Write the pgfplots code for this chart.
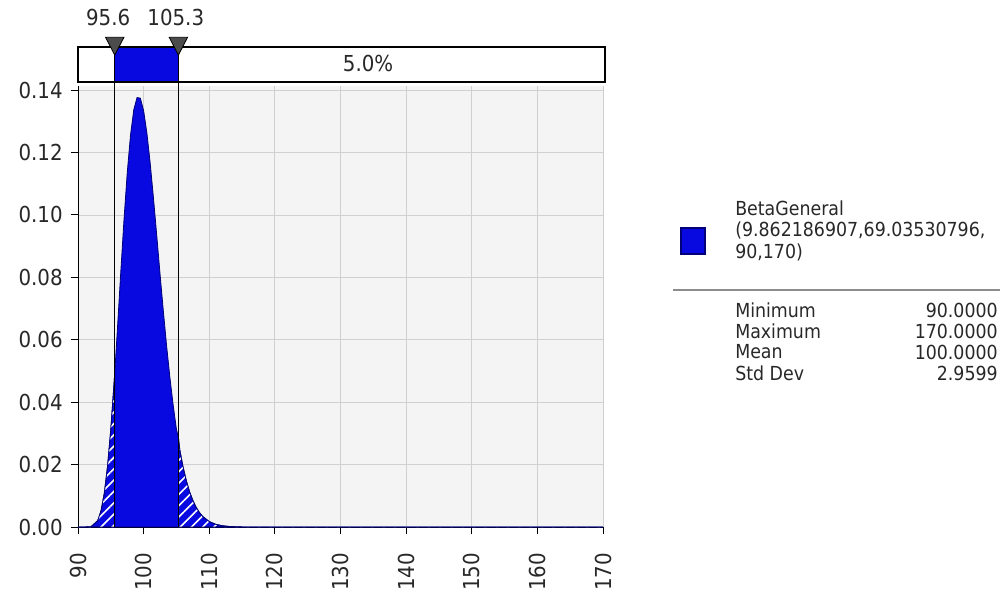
\documentclass[border=0pt]{standalone}
\usepackage{pgfplots}
\pgfplotsset{compat=1.18}
\usepackage{pgfplotstable}
\usetikzlibrary{patterns.meta}
\usepackage{fontspec}
\setmainfont{DejaVu Sans Condensed}

\definecolor{fillblue}{RGB}{8,8,225}
\definecolor{edgeblue}{RGB}{0,0,120}
\definecolor{bggray}{RGB}{244,244,244}
\definecolor{gridgray}{RGB}{208,208,208}
\definecolor{txt}{RGB}{40,40,40}

% density of BetaGeneral(9.862,69.035,90,170)
\pgfplotstableread{
x y
90 0
91 0.00001
92 0.00013
93 0.00203
93.5 0.00511
94 0.01068
94.5 0.01935
95 0.0313
95.5 0.0462
95.6 0.0494
}\lefttail
\pgfplotstableread{
x y
95.6 0.0494
96 0.0632
96.5 0.0810
97 0.0982
97.5 0.1134
98 0.1255
98.5 0.1337
99 0.1376
99.5 0.1374
100 0.1334
100.5 0.1262
101 0.1166
101.5 0.1054
102 0.0934
102.5 0.0811
103 0.0693
103.5 0.0581
104 0.0480
104.5 0.0391
105 0.0313
105.3 0.0287
}\middle
\pgfplotstableread{
x y
105.3 0.0287
105.5 0.0248
106 0.0193
106.5 0.0149
107 0.0113
107.5 0.00852
108 0.00633
108.5 0.00464
109 0.00338
110 0.00173
111 0.00085
112 0.00040
113 0.00018
114 0.00008
115 0.00003
120 0
170 0
}\righttail

\begin{document}
\fontsize{14.5}{17}\selectfont
\begin{tikzpicture}
\path[use as bounding box] (-58.5pt,-50.25pt) rectangle (696pt,395.25pt);
\begin{axis}[
    at={(0,0)}, anchor=origin,
    scale only axis,
    width=393.75pt, height=330.75pt,
    xmin=90, xmax=170, ymin=0, ymax=0.1413,
    xtick={90,100,...,170},
    ytick={0,0.02,...,0.14},
    axis x line*=bottom, axis y line*=left,
    axis line style={black, -},
    tick align=outside,
    major tick length=5.5pt,
    tick style={black, line width=0.7pt},
    grid=major,
    grid style={gridgray, line width=0.6pt},
    axis background/.style={fill=bggray},
    yticklabel style={/pgf/number format/.cd, fixed, fixed zerofill, precision=2, assume math mode=true},
    xticklabel style={rotate=90, anchor=east, /pgf/number format/assume math mode=true},
    ticklabel style={font=\fontsize{16.5}{19}\selectfont, text=txt},
    xticklabel shift=9pt,
    yticklabel shift=1pt,
    clip=false,
]
\addplot[draw=edgeblue, fill=fillblue, line width=0.6pt,
    postaction={pattern={Lines[angle=45,distance=6pt,line width=1.2pt]}, pattern color=white}]
    table[x=x,y=y] {\lefttail} \closedcycle;
\addplot[draw=edgeblue, fill=fillblue, line width=0.6pt]
    table[x=x,y=y] {\middle} \closedcycle;
\addplot[draw=edgeblue, fill=fillblue, line width=0.6pt,
    postaction={pattern={Lines[angle=45,distance=6pt,line width=1.2pt]}, pattern color=white}]
    table[x=x,y=y] {\righttail} \closedcycle;

% percentile bar
\draw[black, line width=0.9pt, fill=white] (axis cs:90,0.1426) rectangle (axis cs:170.3,0.1538);
\fill[fillblue] (axis cs:95.6,0.1426) rectangle (axis cs:105.3,0.1538);
\draw[black, line width=0.9pt] (axis cs:90,0.1426) rectangle (axis cs:170.3,0.1538);
\draw[black, line width=0.6pt] (axis cs:95.6,0) -- (axis cs:95.6,0.1538);
\draw[black, line width=0.6pt] (axis cs:105.3,0) -- (axis cs:105.3,0.1538);
\fill[black!70, draw=black, line width=0.6pt] (axis cs:95.6,0.1512) -- (axis cs:94.2,0.1569) -- (axis cs:97.0,0.1569) -- cycle;
\fill[black!70, draw=black, line width=0.6pt] (axis cs:105.3,0.1512) -- (axis cs:103.9,0.1569) -- (axis cs:106.7,0.1569) -- cycle;
\node[text=txt, font=\fontsize{16.5}{19}\selectfont] at (axis cs:94.6,0.1631) {95.6};
\node[text=txt, font=\fontsize{16.5}{19}\selectfont] at (axis cs:104.9,0.1631) {105.3};
\node[text=txt, font=\fontsize{16.5}{19}\selectfont] at (axis cs:134.2,0.1484) {5.0\%};
\end{axis}

% legend and statistics, in pixel coordinates of the chart
\begin{scope}[x=0.75pt, y=-0.75pt, shift={(-58.5pt,395.25pt)}]
\draw[edgeblue, fill=fillblue, line width=0.8pt] (681,228) rectangle (705,254);
\node[anchor=west, text=txt, inner sep=0pt] at (735,208) {BetaGeneral};
\node[anchor=west, text=txt, inner sep=0pt] at (735,230) {(9.862186907,69.03530796,};
\node[anchor=west, text=txt, inner sep=0pt] at (735,252) {90,170)};
\draw[black!45, line width=0.8pt] (673,290) -- (1000,290);
\node[anchor=west, text=txt, inner sep=0pt] at (735,310) {Minimum};
\node[anchor=west, text=txt, inner sep=0pt] at (735,331) {Maximum};
\node[anchor=west, text=txt, inner sep=0pt] at (735,352) {Mean};
\node[anchor=west, text=txt, inner sep=0pt] at (735,373) {Std Dev};
\node[anchor=east, text=txt, inner sep=0pt] at (998,310) {90.0000};
\node[anchor=east, text=txt, inner sep=0pt] at (998,331) {170.0000};
\node[anchor=east, text=txt, inner sep=0pt] at (998,352) {100.0000};
\node[anchor=east, text=txt, inner sep=0pt] at (998,373) {2.9599};
\end{scope}
\end{tikzpicture}
\end{document}
